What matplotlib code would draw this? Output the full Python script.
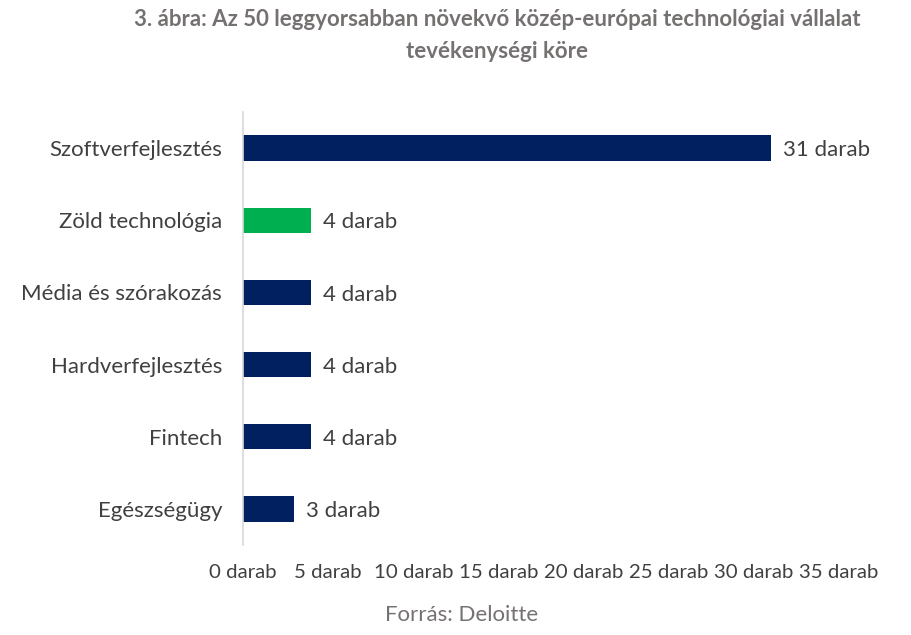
import matplotlib.pyplot as plt
from matplotlib.ticker import FuncFormatter

categories = ['Szoftverfejlesztés', 'Zöld technológia', 'Média és szórakozás',
              'Hardverfejlesztés', 'Fintech', 'Egészségügy']
values = [31, 4, 4, 4, 4, 3]
colors = ['#002060', '#00B050', '#002060', '#002060', '#002060', '#002060']
xticks = [0, 5, 10, 15, 20, 25, 30, 35]

plt.rcParams['font.family'] = ['Lato', 'DejaVu Sans']

fig = plt.figure(figsize=(9.11, 6.35), dpi=100)
ax = fig.add_axes([243 / 911, 90 / 635, (839 - 243) / 911, (545 - 112) / 635])

y = list(range(len(categories)))[::-1]
ax.barh(y, values, height=0.35, color=colors)

for yi, v in zip(y, values):
    ax.text(v + 0.7, yi - 0.03, f'{v} darab', va='center', ha='left',
            fontsize=16, color='#404040')

ax.set_xlim(0, 35)
ax.set_ylim(-0.5, len(categories) - 0.5)
ax.set_yticks(y)
ax.set_yticklabels(categories, fontsize=16, color='#404040')
ax.set_xticks(xticks)
ax.xaxis.set_major_formatter(FuncFormatter(lambda v, p: f'{int(v)} darab'))
ax.tick_params(axis='x', labelsize=14.7, colors='#404040', length=0, pad=14)
ax.tick_params(axis='y', length=0, pad=15)

for s in ['top', 'right', 'bottom']:
    ax.spines[s].set_visible(False)
ax.spines['left'].set_color('#D9D9D9')
ax.spines['left'].set_linewidth(1.2)

fig.text(497 / 911, 1 - 20 / 635, '3. ábra: Az 50 leggyorsabban növekvő közép-európai technológiai vállalat',
         ha='center', va='center', fontsize=16, fontweight='bold', color='#767171')
fig.text(497 / 911, 1 - 52 / 635, 'tevékenységi köre',
         ha='center', va='center', fontsize=16, fontweight='bold', color='#767171')
fig.text(462 / 911, 1 - 615 / 635, 'Forrás: Deloitte', ha='center', va='center',
         fontsize=16, color='#767171')

fig.savefig('out.png', dpi=100)
